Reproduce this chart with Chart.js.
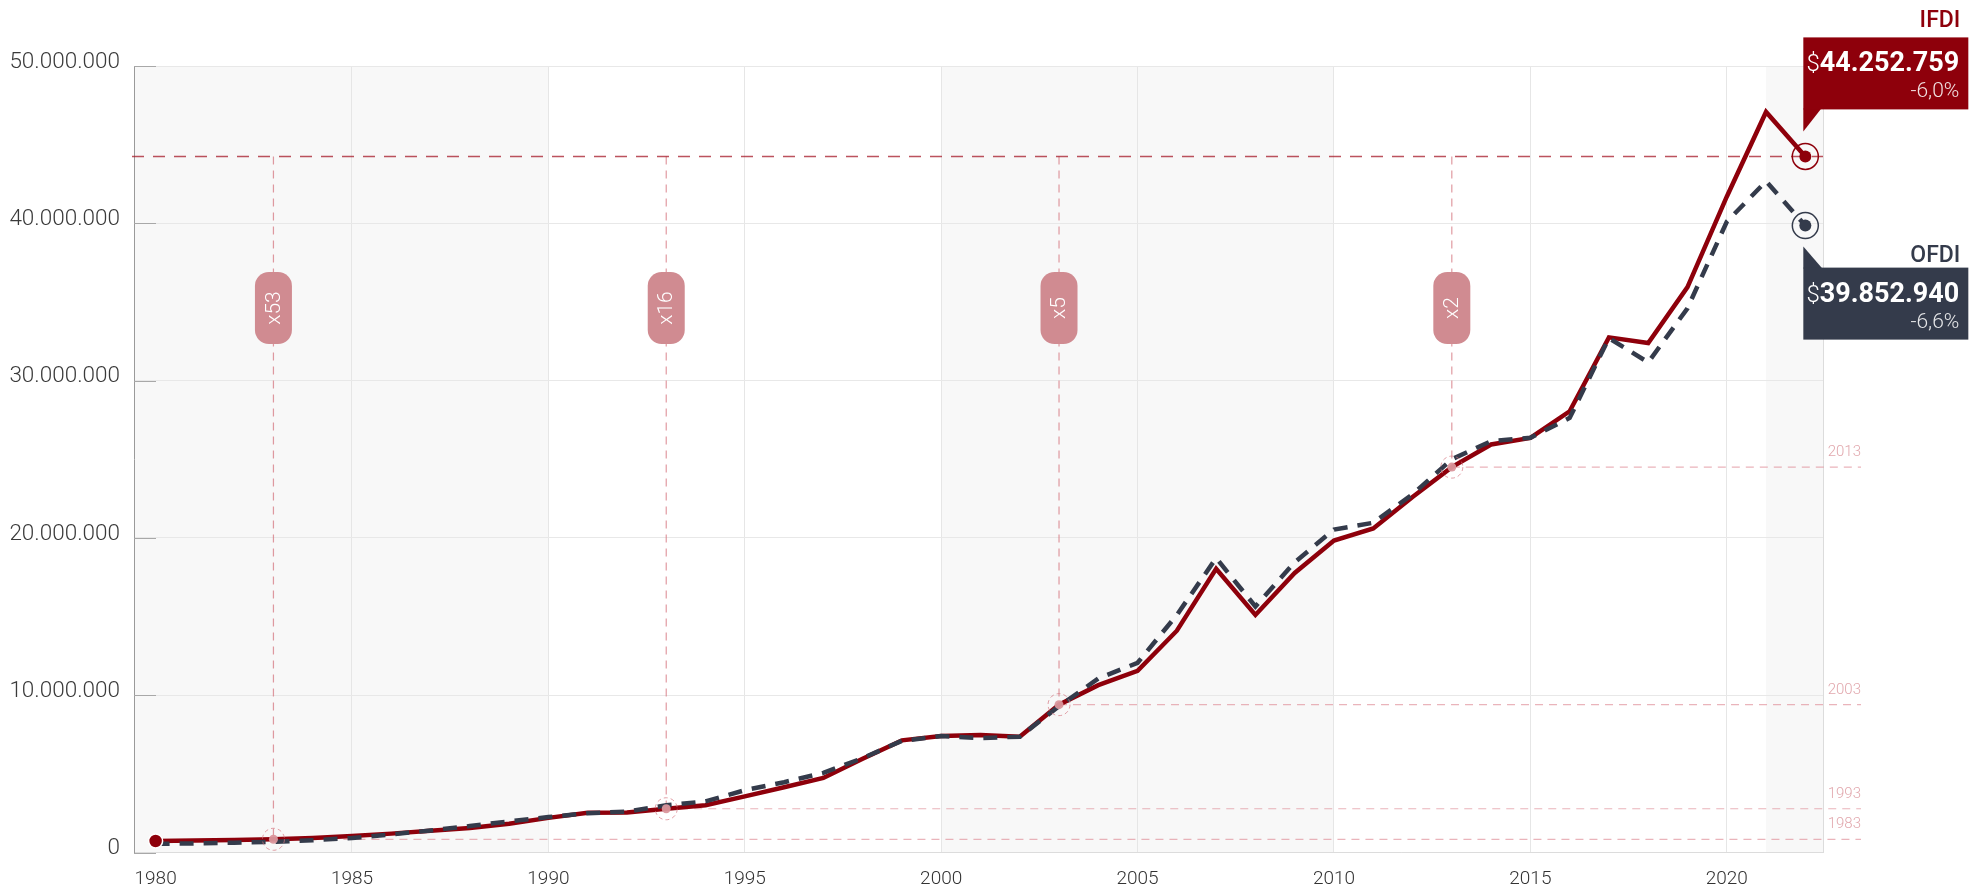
<!DOCTYPE html>
<html>
<head>
<meta charset="utf-8">
<script src="https://cdn.jsdelivr.net/npm/chart.js@4/dist/chart.umd.min.js"></script>
<style>
  html, body { margin: 0; padding: 0; background: #fff; }
  #wrap { width: 1984px; height: 888px; position: relative; }
</style>
</head>
<body>
<div id="wrap"><canvas id="fdiChart"></canvas></div>
<script>
// years on the x axis
var years = [
  1980, 1981, 1982, 1983, 1984, 1985, 1986, 1987, 1988, 1989,
  1990, 1991, 1992, 1993, 1994, 1995, 1996, 1997, 1998, 1999,
  2000, 2001, 2002, 2003, 2004, 2005, 2006, 2007, 2008, 2009,
  2010, 2011, 2012, 2013, 2014, 2015, 2016, 2017, 2018, 2019,
  2020, 2021, 2022
];

// inward FDI stock (solid red)
var ifdi = [
  730000, 770000, 800000, 840000, 920000, 1050000, 1200000, 1380000, 1560000, 1830000,
  2200000, 2530000, 2550000, 2780000, 3000000, 3570000, 4150000, 4740000, 5960000, 7130000,
  7400000, 7470000, 7360000, 9400000, 10640000, 11550000, 14100000, 18040000, 15100000, 17770000,
  19830000, 20600000, 22600000, 24500000, 25940000, 26360000, 28050000, 32750000, 32390000, 35940000,
  41690000, 47080000, 44252759
];

// outward FDI stock (dashed navy)
var ofdi = [
  550000, 580000, 620000, 680000, 780000, 920000, 1150000, 1400000, 1680000, 1980000,
  2250000, 2500000, 2600000, 3000000, 3250000, 3960000, 4470000, 5060000, 6000000, 7100000,
  7400000, 7280000, 7360000, 9300000, 11060000, 12060000, 15100000, 18720000, 15640000, 18450000,
  20530000, 20960000, 22770000, 25000000, 26150000, 26360000, 27630000, 32700000, 31160000, 34600000,
  40100000, 42670000, 39852940
];

var xTicks = [1980, 1985, 1990, 1995, 2000, 2005, 2010, 2015, 2020];
var yTicks = [0, 10000000, 20000000, 30000000, 40000000, 50000000];
var refYears = [1983, 1993, 2003, 2013];
var shadedSpans = [[1979.45, 1990], [2000, 2010], [2021, 2022.45]];

var RED = '#8e000b';
var NAVY = '#343b4b';
var PINK = 'rgba(214, 120, 130, 0.75)';

function dots(v) {
  return String(v).replace(/\B(?=(\d{3})+(?!\d))/g, '.');
}

function pct(last, prev) {
  return ((last / prev - 1) * 100).toFixed(1).replace('.', ',') + '%';
}

function valueAt(series, year) {
  return series[years.indexOf(year)];
}

function toPoints(series) {
  return years.map(function (yr, i) { return { x: yr, y: series[i] }; });
}

function callout(ctx, left, top, color, title, titleGap, value, change) {
  var right = left + 165;
  ctx.fillStyle = color;
  ctx.fillRect(left, top, right - left, 72);

  ctx.textAlign = 'right';
  ctx.textBaseline = 'alphabetic';
  ctx.font = '500 23px Roboto';
  ctx.fillText(title, right - 8, top - titleGap);

  ctx.fillStyle = '#fff';
  ctx.font = '700 27px Roboto';
  var num = dots(value);
  ctx.fillText(num, right - 9, top + 34);
  var w = ctx.measureText(num).width;
  ctx.font = '300 24px Roboto';
  ctx.fillText('$', right - 9 - w, top + 34);

  ctx.fillStyle = 'rgba(255,255,255,0.88)';
  ctx.font = '300 21px Roboto';
  ctx.fillText(change, right - 9, top + 60);
}

var decorPlugin = {
  id: 'decor',
  beforeDraw: function (chart) {
    var ctx = chart.ctx, area = chart.chartArea, x = chart.scales.x;
    ctx.save();
    ctx.fillStyle = '#f8f8f8';
    shadedSpans.forEach(function (s) {
      var x0 = x.getPixelForValue(s[0]);
      var x1 = x.getPixelForValue(s[1]);
      ctx.fillRect(x0, area.top, x1 - x0, area.bottom - area.top);
    });
    ctx.restore();
  },
  beforeDatasetsDraw: function (chart) {
    var ctx = chart.ctx, area = chart.chartArea;
    var x = chart.scales.x, y = chart.scales.y;
    var last = ifdi[ifdi.length - 1];
    var topY = y.getPixelForValue(last);
    ctx.save();

    // right border + short tick marks on the y axis
    ctx.strokeStyle = '#dcdcdc';
    ctx.lineWidth = 1;
    ctx.beginPath();
    ctx.moveTo(area.right + 0.5, area.top);
    ctx.lineTo(area.right + 0.5, area.bottom);
    ctx.stroke();
    ctx.strokeStyle = '#a8a8a8';
    yTicks.forEach(function (v) {
      var py = Math.round(y.getPixelForValue(v)) + 0.5;
      ctx.beginPath();
      ctx.moveTo(area.left, py);
      ctx.lineTo(area.left + 22, py);
      ctx.stroke();
    });

    // reference lines for each comparison year
    refYears.forEach(function (yr) {
      var v = valueAt(ifdi, yr);
      var px = x.getPixelForValue(yr);
      var py = y.getPixelForValue(v);
      ctx.setLineDash([8, 6]);
      ctx.lineWidth = 1.2;
      ctx.strokeStyle = PINK;
      ctx.beginPath();
      ctx.moveTo(px, topY);
      ctx.lineTo(px, py);
      ctx.stroke();

      ctx.strokeStyle = 'rgba(222, 140, 150, 0.65)';
      ctx.beginPath();
      ctx.moveTo(px, py);
      ctx.lineTo(area.right + 38, py);
      ctx.stroke();

      ctx.setLineDash([]);
      ctx.fillStyle = 'rgba(220, 150, 158, 0.85)';
      ctx.font = '300 15px Roboto';
      ctx.textAlign = 'right';
      ctx.textBaseline = 'alphabetic';
      ctx.fillText(String(yr), area.right + 38, py - 11);
    });

    // latest IFDI level across the chart
    ctx.setLineDash([12, 9]);
    ctx.lineWidth = 1.5;
    ctx.strokeStyle = 'rgba(165, 25, 40, 0.75)';
    ctx.beginPath();
    ctx.moveTo(area.left - 2, topY);
    ctx.lineTo(area.right, topY);
    ctx.stroke();
    ctx.setLineDash([]);

    // multiplier badges
    refYears.forEach(function (yr) {
      var px = x.getPixelForValue(yr);
      var mult = 'x' + Math.round(last / valueAt(ifdi, yr));
      ctx.fillStyle = 'rgb(208, 139, 145)';
      ctx.beginPath();
      ctx.roundRect(px - 18.5, 272, 37, 72, 14);
      ctx.fill();
      ctx.save();
      ctx.translate(px, 308);
      ctx.rotate(-Math.PI / 2);
      ctx.fillStyle = '#fff';
      ctx.font = '300 21px Roboto';
      ctx.textAlign = 'center';
      ctx.textBaseline = 'middle';
      ctx.fillText(mult, 0, 1);
      ctx.restore();
    });
    ctx.restore();
  },
  afterDatasetsDraw: function (chart) {
    var ctx = chart.ctx;
    var x = chart.scales.x, y = chart.scales.y;
    var n = years.length - 1;
    ctx.save();

    // markers on the comparison years
    refYears.forEach(function (yr) {
      var px = x.getPixelForValue(yr);
      var py = y.getPixelForValue(valueAt(ifdi, yr));
      ctx.fillStyle = 'rgba(218, 150, 156, 0.95)';
      ctx.beginPath();
      ctx.arc(px, py, 4.5, 0, Math.PI * 2);
      ctx.fill();
      ctx.setLineDash([4, 3]);
      ctx.strokeStyle = 'rgba(214, 120, 130, 0.7)';
      ctx.lineWidth = 1;
      ctx.beginPath();
      ctx.arc(px, py, 11, 0, Math.PI * 2);
      ctx.stroke();
      ctx.setLineDash([]);
    });

    // first point
    ctx.fillStyle = RED;
    ctx.strokeStyle = '#fff';
    ctx.lineWidth = 1.5;
    ctx.beginPath();
    ctx.arc(x.getPixelForValue(years[0]), y.getPixelForValue(ifdi[0]), 7, 0, Math.PI * 2);
    ctx.fill();
    ctx.stroke();

    // end markers
    var ex = x.getPixelForValue(years[n]);
    var iy = y.getPixelForValue(ifdi[n]);
    var oy = y.getPixelForValue(ofdi[n]);
    [[iy, RED], [oy, NAVY]].forEach(function (m) {
      ctx.fillStyle = m[1];
      ctx.strokeStyle = m[1];
      ctx.lineWidth = 1.5;
      ctx.beginPath();
      ctx.arc(ex, m[0], 6, 0, Math.PI * 2);
      ctx.fill();
      ctx.beginPath();
      ctx.arc(ex, m[0], 13, 0, Math.PI * 2);
      ctx.stroke();
    });

    // IFDI callout, pointer below-left
    var left = ex - 2;
    var tipI = iy - 25;
    ctx.fillStyle = RED;
    ctx.beginPath();
    ctx.moveTo(left, tipI);
    ctx.lineTo(left, tipI - 23);
    ctx.lineTo(left + 18, tipI - 23);
    ctx.closePath();
    ctx.fill();
    callout(ctx, left, tipI - 22 - 72, RED, 'IFDI', 10, ifdi[n], pct(ifdi[n], ifdi[n - 1]));

    // OFDI callout, pointer above-left
    var tipO = oy + 21;
    ctx.fillStyle = NAVY;
    ctx.beginPath();
    ctx.moveTo(left, tipO);
    ctx.lineTo(left, tipO + 22);
    ctx.lineTo(left + 19, tipO + 22);
    ctx.closePath();
    ctx.fill();
    callout(ctx, left, tipO + 21, NAVY, 'OFDI', 6, ofdi[n], pct(ofdi[n], ofdi[n - 1]));

    ctx.restore();
  }
};

Chart.defaults.font.family = 'Roboto';

var ctx = document.getElementById('fdiChart').getContext('2d');
var chart = new Chart(ctx, {
  type: 'line',
  data: {
    datasets: [
      {
        label: 'IFDI',
        data: toPoints(ifdi),
        borderColor: RED,
        borderWidth: 4.5,
        pointRadius: 0,
        tension: 0,
        borderJoinStyle: 'miter',
        order: 1
      },
      {
        label: 'OFDI',
        data: toPoints(ofdi),
        borderColor: NAVY,
        borderWidth: 4.5,
        borderDash: [14, 10],
        pointRadius: 0,
        tension: 0,
        order: 0
      }
    ]
  },
  options: {
    responsive: true,
    maintainAspectRatio: false,
    animation: false,
    devicePixelRatio: 1,
    layout: {
      padding: { left: 0, right: 161, top: 66, bottom: 0 }
    },
    plugins: {
      legend: { display: false },
      tooltip: { enabled: false }
    },
    scales: {
      x: {
        type: 'linear',
        min: 1979.45,
        max: 2022.45,
        afterBuildTicks: function (scale) {
          scale.ticks = xTicks.map(function (v) { return { value: v }; });
        },
        afterFit: function (scale) {
          scale.height = 35.5;
        },
        grid: {
          drawTicks: false,
          color: function (c) {
            return c.tick && c.tick.value === 1980 ? 'rgba(0,0,0,0)' : '#e6e6e6';
          }
        },
        border: { color: '#dcdcdc' },
        ticks: {
          padding: 15,
          color: '#333',
          font: { size: 19, weight: '300' },
          maxRotation: 0,
          callback: function (v) { return String(v); }
        }
      },
      y: {
        min: 0,
        max: 50000000,
        afterBuildTicks: function (scale) {
          scale.ticks = yTicks.map(function (v) { return { value: v }; });
        },
        afterFit: function (scale) {
          scale.width = 134;
        },
        grid: {
          drawTicks: false,
          color: '#e8e8e8'
        },
        border: { color: '#9a9a9a' },
        ticks: {
          padding: 14,
          labelOffset: -4,
          color: '#3a3a3a',
          font: { size: 22.5, weight: '300' },
          callback: function (v) { return dots(v); }
        }
      }
    }
  },
  plugins: [decorPlugin]
});
</script>
</body>
</html>
